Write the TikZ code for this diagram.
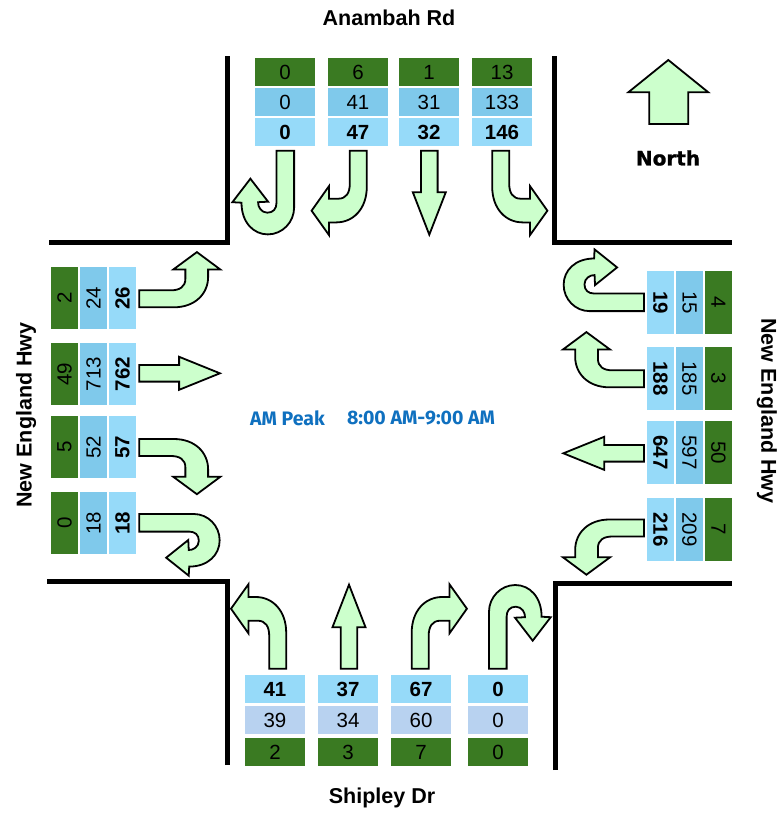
\documentclass[tikz,border=0pt]{standalone}
\usepackage{fontspec}
\setmainfont{Liberation Sans}
\newfontfamily\peakfont{Fira Sans}
\newfontfamily\northfont{DejaVu Sans}[BoldFeatures={FakeBold=1.2}]
\usepackage{xcolor}
\definecolor{heavygreen}{HTML}{3A7A22}
\definecolor{midblue}{HTML}{7FC9EB}
\definecolor{paleblue}{HTML}{B8D2F0}
\definecolor{totalblue}{HTML}{96DAF9}
\definecolor{flowgreen}{HTML}{CCFFCC}
\definecolor{peakblue}{HTML}{0F70BF}

\begin{document}
\begin{tikzpicture}[
  x=1pt, y=-1pt,
  flow/.style={draw=black, fill=flowgreen, line width=1.8pt, x=1pt, y=1pt},
  road/.style={draw=black, line width=5pt},
  cell/.style={inner sep=0pt, font=\fontsize{20.5}{22}\selectfont, text=black},
  hcell/.style={cell, minimum width=60pt, minimum height=28pt},
  lcell/.style={cell, minimum width=62pt, minimum height=27pt, rotate=90},
  rcell/.style={cell, minimum width=63pt, minimum height=27pt, rotate=-90},
  total/.style={fill=totalblue, font=\fontsize{20.5}{22}\selectfont\bfseries},
  roadlabel/.style={font=\fontsize{21.5}{23}\selectfont\bfseries},
  peaklabel/.style={font=\fontsize{19.5}{21}\selectfont\peakfont\bfseries, text=peakblue},
  rightturn/.pic={
    \draw[flow] (-8.5,0) -- (-8.5,36) .. controls (-8.5,58) and (5,71.7) .. (22,71.7)
      -- (29.3,71.7) -- (29.3,84.4) -- (46.7,60) -- (29.3,35.4) -- (29.3,48) -- (20,48)
      .. controls (12,48) and (8.5,42) .. (8.5,33) -- (8.5,0) -- cycle;
  },
  throughmove/.pic={
    \draw[flow] (-8.3,0) -- (-8.3,41.5) -- (-16.5,41.5) -- (0,84) -- (16.5,41.5)
      -- (8.3,41.5) -- (8.3,0) -- cycle;
  },
  uturn/.pic={
    \draw[flow] (-8.8,0) -- (-8.8,57) .. controls (-8.8,71.5) and (3,83.7) .. (17.5,83.7)
      .. controls (32,83.7) and (43.8,71.5) .. (43.8,52) -- (52.9,51.5) -- (34.9,28)
      -- (17.2,51) -- (27.2,51.5) .. controls (27.5,56) and (24,62) .. (18,62)
      .. controls (12,62) and (8.8,58) .. (8.8,52) -- (8.8,0) -- cycle;
  }
]
\useasboundingbox (0,0) rectangle (780,817);

% --- Kerb lines ---
\draw[road] (227,56) -- (227,242) -- (49,242);
\draw[road] (554,56) -- (554,242) -- (732,242);
\draw[road] (227,765) -- (227,581) -- (47,581);
\draw[road] (555,770) -- (555,583) -- (732,583);

% --- Anambah Rd ---
\node[hcell, fill=heavygreen] (nh1) at (285,72) {0};
\node[hcell, fill=midblue] (nl1) at (285,102) {0};
\node[hcell, total] (nt1) at (285,132) {0};
\node[hcell, fill=heavygreen] (nh2) at (358,72) {6};
\node[hcell, fill=midblue] (nl2) at (358,102) {41};
\node[hcell, total] (nt2) at (358,132) {47};
\node[hcell, fill=heavygreen] (nh3) at (429,72) {1};
\node[hcell, fill=midblue] (nl3) at (429,102) {31};
\node[hcell, total] (nt3) at (429,132) {32};
\node[hcell, fill=heavygreen] (nh4) at (502,72) {13};
\node[hcell, fill=midblue] (nl4) at (502,102) {133};
\node[hcell, total] (nt4) at (502,132) {146};

\pic[rotate=180] (nuturn) at (285.3,150.7) {uturn};
\pic[rotate=180] (nright) at (358.3,150.7) {rightturn};
\pic[rotate=180] (nthrough) at (429.3,150.7) {throughmove};
\pic[rotate=180, xscale=-1] (nleft) at (500.7,150.7) {rightturn};

% --- New England Hwy, west side ---
\node[lcell, fill=heavygreen] (wh1) at (64.5,298) {2};
\node[lcell, fill=midblue] (wl1) at (93.5,298) {24};
\node[lcell, total] (wt1) at (122.5,298) {26};
\node[lcell, fill=heavygreen] (wh2) at (64.5,374) {49};
\node[lcell, fill=midblue] (wl2) at (93.5,374) {713};
\node[lcell, total] (wt2) at (122.5,374) {762};
\node[lcell, fill=heavygreen] (wh3) at (64.5,447) {5};
\node[lcell, fill=midblue] (wl3) at (93.5,447) {52};
\node[lcell, total] (wt3) at (122.5,447) {57};
\node[lcell, fill=heavygreen] (wh4) at (64.5,523) {0};
\node[lcell, fill=midblue] (wl4) at (93.5,523) {18};
\node[lcell, total] (wt4) at (122.5,523) {18};

\pic[rotate=-90, yscale=.96, xscale=-1] (wleft) at (139.3,298.8) {rightturn};
\pic[rotate=-90, yscale=.96] (wthrough) at (139.3,373.3) {throughmove};
\pic[rotate=-90, yscale=.96] (wright) at (139.3,447.5) {rightturn};
\pic[rotate=-90, yscale=.96] (wuturn) at (139.3,522.8) {uturn};

% --- New England Hwy, east side ---
\node[rcell, total] (et1) at (660.5,302.5) {19};
\node[rcell, fill=midblue] (el1) at (689.5,302.5) {15};
\node[rcell, fill=heavygreen] (eh1) at (718.5,302.5) {4};
\node[rcell, total] (et2) at (660.5,378.5) {188};
\node[rcell, fill=midblue] (el2) at (689.5,378.5) {185};
\node[rcell, fill=heavygreen] (eh2) at (718.5,378.5) {3};
\node[rcell, total] (et3) at (660.5,452.5) {647};
\node[rcell, fill=midblue] (el3) at (689.5,452.5) {597};
\node[rcell, fill=heavygreen] (eh3) at (718.5,452.5) {50};
\node[rcell, total] (et4) at (660.5,529.5) {216};
\node[rcell, fill=midblue] (el4) at (689.5,529.5) {209};
\node[rcell, fill=heavygreen] (eh4) at (718.5,529.5) {7};

\pic[rotate=90, yscale=.96] (euturn) at (644,302.3) {uturn};
\pic[rotate=90, yscale=.96] (eright) at (644,378.8) {rightturn};
\pic[rotate=90, yscale=.96] (ethrough) at (644,453.3) {throughmove};
\pic[rotate=90, yscale=.96, xscale=-1] (eleft) at (644,528) {rightturn};

% --- Shipley Dr ---
\node[hcell, total] (st1) at (275,689) {41};
\node[hcell, fill=paleblue] (sl1) at (275,720) {39};
\node[hcell, fill=heavygreen] (sh1) at (275,752) {2};
\node[hcell, total] (st2) at (348,689) {37};
\node[hcell, fill=paleblue] (sl2) at (348,720) {34};
\node[hcell, fill=heavygreen] (sh2) at (348,752) {3};
\node[hcell, total] (st3) at (421,689) {67};
\node[hcell, fill=paleblue] (sl3) at (421,720) {60};
\node[hcell, fill=heavygreen] (sh3) at (421,752) {7};
\node[hcell, total] (st4) at (498,689) {0};
\node[hcell, fill=paleblue] (sl4) at (498,720) {0};
\node[hcell, fill=heavygreen] (sh4) at (498,752) {0};

\pic[xscale=-1] (sleft) at (277.7,668.7) {rightturn};
\pic (sthrough) at (349,668.7) {throughmove};
\pic (sright) at (420.2,668.7) {rightturn};
\pic (suturn) at (497.8,668.7) {uturn};

% --- Road names ---
\node[roadlabel] (anambah) at (389,18) {Anambah Rd};
\node[roadlabel] (shipley) at (382,798) {Shipley Dr};
\node[roadlabel, rotate=90] (hwywest) at (26,415) {New England Hwy};
\node[roadlabel, rotate=-90] (hwyeast) at (767,411) {New England Hwy};

% --- North marker ---
\draw[flow, x=1pt, y=-1pt] (649.3,124) -- (649.3,92.3) -- (628.3,92.3) -- (668.3,60)
  -- (708.3,92.3) -- (688.3,92.3) -- (688.3,124) -- cycle;
\node[font=\fontsize{20}{22}\selectfont\northfont\bfseries] (north) at (668,158) {North};

% --- Peak period ---
\node[peaklabel] (peak) at (287.5,418) {AM Peak};
\node[peaklabel] (period) at (421,418) {8:00 AM-9:00 AM};

\end{tikzpicture}
\end{document}
